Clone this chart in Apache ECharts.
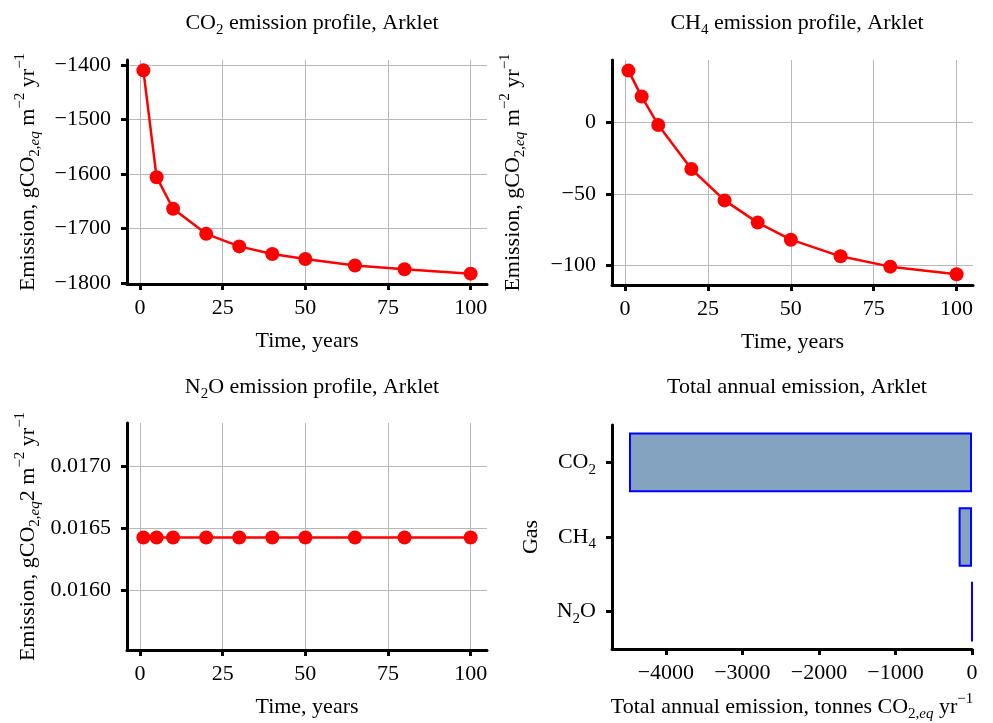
<!DOCTYPE html>
<html>
<head>
<meta charset="utf-8">
<title>Arklet emissions</title>
<script src="https://cdn.jsdelivr.net/npm/echarts@6/dist/echarts.min.js"></script>
<style>
  html, body {margin: 0; padding: 0; background: #fff;}
  #chart {width: 993px; height: 723px;}
</style>
</head>
<body>
<div id="chart"></div>
<script>
const years = [1, 5, 10, 20, 30, 40, 50, 65, 80, 100]
const co2Profile = [-1410, -1606, -1664, -1710, -1733, -1747, -1756, -1768, -1775, -1783]
const ch4Profile = [36.0, 17.9, -1.9, -32.6, -54.5, -70.0, -81.9, -93.5, -100.7, -106.0]
const n2oProfile = [0.016425, 0.016425, 0.016425, 0.016425, 0.016425, 0.016425, 0.016425, 0.016425, 0.016425, 0.016425]
const gases = ['CO2', 'CH4', 'N2O']
const gasTotals = [-4482, -175, 0.04]

const yearTicks = [0, 25, 50, 75, 100]
const co2Ticks = [-1800, -1700, -1600, -1500, -1400]
const ch4Ticks = [-100, -50, 0]
const n2oTicks = [0.0160, 0.0165, 0.0170]
const totalTicks = [-4000, -3000, -2000, -1000, 0]

const FONT = 'Liberation Serif'
const SIZE = 22
const rich = {
  n: {fontFamily: FONT, fontSize: SIZE, fontWeight: 'normal', lineHeight: 30, color: '#000'},
  s: {fontFamily: FONT, fontSize: 15, fontWeight: 'normal', lineHeight: 15, color: '#000', verticalAlign: 'bottom'},
  si: {fontFamily: FONT, fontSize: 15, fontWeight: 'normal', lineHeight: 15, color: '#000', verticalAlign: 'bottom', fontStyle: 'italic'},
  p: {fontFamily: FONT, fontSize: 15, fontWeight: 'normal', lineHeight: 15, color: '#000', verticalAlign: 'top'}
}
const gasLabel = {CO2: '{n|CO}{s|2}', CH4: '{n|CH}{s|4}', N2O: '{n|N}{s|2}{n|O}'}
const minus = (v, d) => String(d === undefined ? v : v.toFixed(d)).replace('-', '\u2212')

function valueAxis (gridIndex, min, max, ticks, extra) {
  return Object.assign({
    type: 'value',
    gridIndex: gridIndex,
    min: min,
    max: max,
    axisLine: {show: true, onZero: false, lineStyle: {color: '#000', width: 3}},
    axisTick: {show: true, length: 6, customValues: ticks, lineStyle: {color: '#000', width: 3}},
    axisLabel: {customValues: ticks, fontFamily: FONT, fontSize: SIZE, color: '#000', margin: 13, formatter: (v) => minus(v)},
    splitLine: {show: true, lineStyle: {color: '#b8b8b8', width: 1}}
  }, extra)
}

function timeAxis (gridIndex) {
  return valueAxis(gridIndex, -3.95, 104.95, yearTicks, {
    name: 'Time, years',
    nameLocation: 'middle',
    nameGap: 46,
    nameTextStyle: {fontFamily: FONT, fontSize: SIZE, color: '#000'}
  })
}

const yName = '{n|Emission, gCO}{s|2,}{si|eq}{n| m}{p|\u22122}{n| yr}{p|\u22121}'
const yNameN2O = '{n|Emission, gCO}{s|2,}{si|eq}{n|2 m}{p|\u22122}{n| yr}{p|\u22121}'

function emissionAxis (gridIndex, min, max, ticks, name, digits) {
  const axis = valueAxis(gridIndex, min, max, ticks, {
    name: name,
    nameLocation: 'middle',
    nameGap: 84,
    nameTextStyle: {rich: rich}
  })
  axis.axisLabel.margin = 16
  if (digits) axis.axisLabel.formatter = (v) => minus(v, digits)
  return axis
}

function profileSeries (idx, data) {
  return {
    type: 'line',
    xAxisIndex: idx,
    yAxisIndex: idx,
    data: years.map((y, i) => [y, data[i]]),
    symbol: 'circle',
    symbolSize: 14,
    lineStyle: {color: '#ff0000', width: 2.5},
    itemStyle: {color: '#ff0000'}
  }
}

function panelTitle (text, x, y) {
  return {text: text, left: x, top: y, textAlign: 'center', textStyle: {rich: rich}}
}

const chart = echarts.init(document.getElementById('chart'), null, {renderer: 'canvas'})
chart.setOption({
  animation: false,
  backgroundColor: '#fff',
  title: [
    panelTitle('{n|CO}{s|2}{n| emission profile, Arklet}', 307, 3),
    panelTitle('{n|CH}{s|4}{n| emission profile, Arklet}', 792, 3),
    panelTitle('{n|N}{s|2}{n|O emission profile, Arklet}', 307, 367),
    panelTitle('{n|Total annual emission, Arklet}', 792, 367)
  ],
  grid: [
    {left: 127, top: 60, width: 360, height: 224},
    {left: 612, top: 60, width: 361, height: 225},
    {left: 127, top: 423, width: 360, height: 227},
    {left: 612, top: 425, width: 360, height: 225}
  ],
  xAxis: [
    timeAxis(0),
    timeAxis(1),
    timeAxis(2),
    valueAxis(3, -4704, 0, totalTicks, {
      splitLine: {show: false},
      name: '{n|Total annual emission, tonnes CO}{s|2,}{si|eq}{n| yr}{p|\u22121}',
      nameLocation: 'middle',
      nameGap: 43,
      nameTextStyle: {rich: rich}
    })
  ],
  yAxis: [
    emissionAxis(0, -1802, -1391, co2Ticks, yName),
    emissionAxis(1, -113.5, 43.4, ch4Ticks, yName),
    emissionAxis(2, 0.015514, 0.017351, n2oTicks, yNameN2O, 4),
    {
      type: 'category',
      gridIndex: 3,
      data: gases,
      inverse: true,
      name: 'Gas',
      nameLocation: 'middle',
      nameGap: 70,
      nameTextStyle: {fontFamily: FONT, fontSize: SIZE, color: '#000'},
      axisLine: {show: true, onZero: false, lineStyle: {color: '#000', width: 3}},
      axisTick: {show: true, alignWithLabel: true, length: 6, lineStyle: {color: '#000', width: 3}},
      axisLabel: {margin: 16, formatter: (v) => gasLabel[v], rich: rich},
      splitLine: {show: false}
    }
  ],
  series: [
    profileSeries(0, co2Profile),
    profileSeries(1, ch4Profile),
    profileSeries(2, n2oProfile),
    {
      type: 'bar',
      xAxisIndex: 3,
      yAxisIndex: 3,
      data: gasTotals,
      clip: false,
      barCategoryGap: '20%',
      itemStyle: {color: '#84a3c0', borderColor: '#0000ff', borderWidth: 2}
    }
  ]
})
</script>
</body>
</html>
